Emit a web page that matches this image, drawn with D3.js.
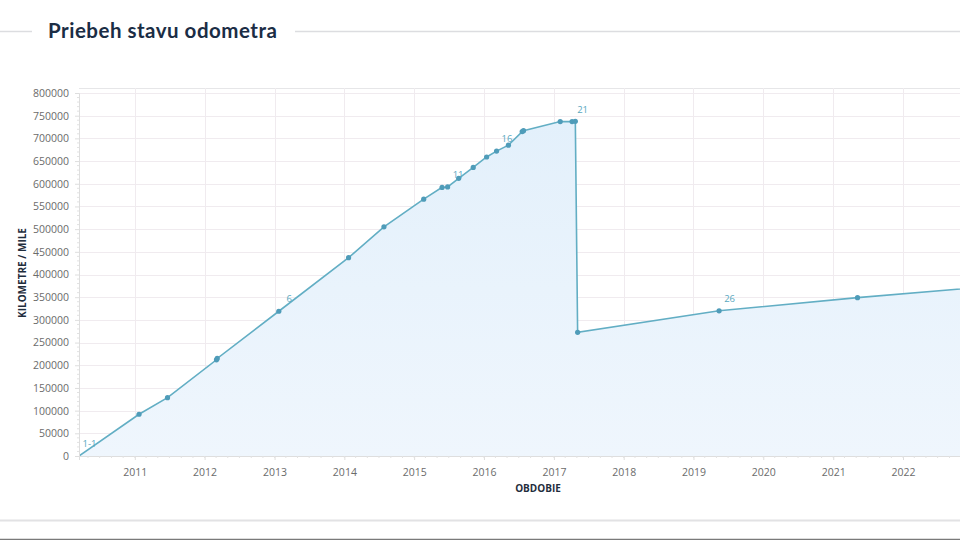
<!DOCTYPE html>
<html><head><meta charset="utf-8">
<script src="https://cdn.jsdelivr.net/npm/d3@7"></script>
<style>
body{margin:0;background:#fff;}
svg{display:block;font-family:"Open Sans",sans-serif;}
</style></head>
<body><svg id="c" width="960" height="540"></svg>
<script>
const dates = ["2010-03-15","2011-01-23","2011-06-21","2012-03-03","2012-03-07","2013-01-23","2014-01-23","2014-07-27","2015-02-20","2015-05-27","2015-06-25","2015-08-22","2015-11-06","2016-01-15","2016-03-07","2016-05-08","2016-07-19","2016-07-26","2017-02-03","2017-04-06","2017-04-23","2017-05-05","2019-05-15","2021-05-08","2023-05-08"];
const values = [0,92000,128500,212000,215000,319000,437000,505000,566000,592000,593000,612000,636000,659000,672000,685000,715000,717000,737000,737000,737500,272500,320000,349000,375000];
const pointLabels = ["1-1","","","","","6","","","","","11","","","","16","","","","","21","","","26","",""];
const yTicks = [0,50000,100000,150000,200000,250000,300000,350000,400000,450000,500000,550000,600000,650000,700000,750000,800000];
const xTickYears = [2011,2012,2013,2014,2015,2016,2017,2018,2019,2020,2021,2022];
const domainStart = "2010-03-15", domainEnd = "2022-10-26";
const title = "Priebeh stavu odometra";
const yTitle = "KILOMETRE / MILE";
const xTitle = "OBDOBIE";

const parse = d3.timeParse("%Y-%m-%d");
const data = dates.map((d,i)=>({date:parse(d), value:values[i], label:pointLabels[i]}));

const svg = d3.select("#c");
const L = 79, R = 960, T = 93, B = 456;
const x = d3.scaleTime().domain([parse(domainStart), parse(domainEnd)]).range([L, R]);
const y = d3.scaleLinear().domain([0, 800000]).range([B, T]);

// header
svg.append("line").attr("x1",0).attr("x2",32).attr("y1",31.5).attr("y2",31.5).attr("stroke","#dcdde0").attr("stroke-width",1.5);
svg.append("line").attr("x1",295).attr("x2",960).attr("y1",31.5).attr("y2",31.5).attr("stroke","#dcdde0").attr("stroke-width",1.5);
svg.append("text").attr("x",48).attr("y",38).attr("fill","#1b2d45").attr("font-size",20.5).attr("font-weight",700)
  .attr("letter-spacing",0.5).attr("font-family","Lato, 'Open Sans', sans-serif").text(title);

// footer lines
svg.append("line").attr("x1",0).attr("x2",960).attr("y1",520.5).attr("y2",520.5).attr("stroke","#e2e2e4").attr("stroke-width",2);
svg.append("line").attr("x1",0).attr("x2",960).attr("y1",539.5).attr("y2",539.5).attr("stroke","#7a7a7a").attr("stroke-width",1.5);

const defs = svg.append("defs");
const cp = defs.append("clipPath").attr("id","clip");
cp.append("rect").attr("x",L).attr("y",T-10).attr("width",R-L).attr("height",B-T+10);
const grad = defs.append("linearGradient").attr("id","g").attr("x1",0).attr("x2",0).attr("y1",0).attr("y2",1);
grad.append("stop").attr("offset","0%").attr("stop-color","#e3f0fb");
grad.append("stop").attr("offset","100%").attr("stop-color","#eff6fd");

// plot frame top
svg.append("line").attr("x1",L).attr("x2",R).attr("y1",88.5).attr("y2",88.5).attr("stroke","#e6e6e8");

// grid
const g = svg.append("g");
g.selectAll(".hg").data(yTicks).join("line").attr("x1",L).attr("x2",R)
  .attr("y1",d=>Math.round(y(d))+0.5).attr("y2",d=>Math.round(y(d))+0.5).attr("stroke","#f0ebef");
const yearDates = xTickYears.map(yr=>new Date(yr,0,1));
g.selectAll(".vg").data(yearDates).join("line").attr("y1",88).attr("y2",B)
  .attr("x1",d=>Math.round(x(d))+0.5).attr("x2",d=>Math.round(x(d))+0.5).attr("stroke","#f0ebef");

// area + line
const plot = svg.append("g").attr("clip-path","url(#clip)");
plot.append("path").datum(data).attr("fill","url(#g)")
  .attr("d", d3.area().x(d=>x(d.date)).y0(B).y1(d=>y(d.value)));
plot.append("path").datum(data).attr("fill","none").attr("stroke","#62aec4").attr("stroke-width",1.6)
  .attr("d", d3.line().x(d=>x(d.date)).y(d=>y(d.value)));
plot.selectAll("circle").data(data.slice(1)).join("circle")
  .attr("cx",d=>x(d.date)).attr("cy",d=>y(d.value)).attr("r",2.6).attr("fill","#4f9cb9");
svg.selectAll(".pl").data(data.filter(d=>d.label)).join("text")
  .attr("x",d=>x(d.date)+10.5).attr("y",d=>y(d.value)-9).attr("text-anchor","middle")
  .attr("font-size",9.5).attr("fill","#5aa7c0").text(d=>d.label);

// axes
const yAxis = svg.append("g").attr("transform",`translate(${L},0)`)
  .call(d3.axisLeft(y).tickValues(yTicks).tickSize(4).tickFormat(d3.format("d")));
yAxis.select(".domain").attr("stroke","#dedede");
yAxis.selectAll(".tick line").attr("stroke","#dedede");
yAxis.selectAll("text").attr("fill","#6b6b6b").attr("font-size",10.5).attr("font-family","'Open Sans',sans-serif").attr("dx",-3);
const yMinor = d3.range(0,800001,10000).filter(v=>v%50000!==0);
svg.append("g").selectAll("line").data(yMinor).join("line").attr("x1",L-2).attr("x2",L)
  .attr("y1",d=>y(d)).attr("y2",d=>y(d)).attr("stroke","#e2e2e2");

const xAxis = svg.append("g").attr("transform",`translate(0,${B})`)
  .call(d3.axisBottom(x).tickValues(yearDates).tickSize(4).tickFormat(d3.timeFormat("%Y")));
xAxis.select(".domain").attr("stroke","#dedede");
xAxis.selectAll(".tick line").attr("stroke","#dedede");
xAxis.selectAll("text").attr("fill","#6b6b6b").attr("font-size",10.5).attr("font-family","'Open Sans',sans-serif").attr("dy","1.2em");
const xMinor = d3.timeMonth.every(2).range(parse(domainStart), parse(domainEnd));
svg.append("g").selectAll("line").data(xMinor).join("line").attr("y1",B).attr("y2",B+2)
  .attr("x1",d=>x(d)).attr("x2",d=>x(d)).attr("stroke","#e2e2e2");

svg.append("text").attr("x",538).attr("y",492).attr("text-anchor","middle").attr("font-size",10)
  .attr("font-weight",700).attr("fill","#1f2d3d").text(xTitle);
svg.append("text").attr("transform","translate(26,273) rotate(-90)").attr("text-anchor","middle").attr("font-size",10)
  .attr("font-weight",700).attr("fill","#1f2d3d").text(yTitle);
</script></body></html>
